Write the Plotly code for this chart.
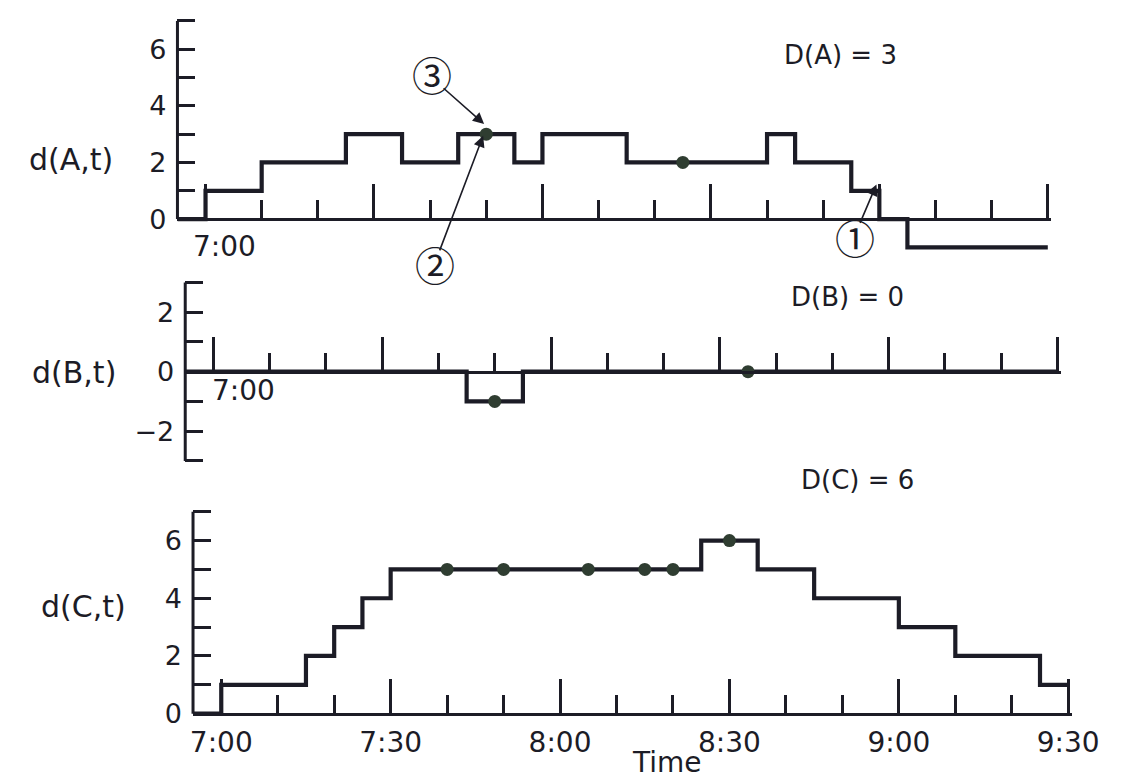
import plotly.graph_objects as go

W, H = 1134, 782

# ---- data (minutes after 7:00) ----
t_A = [-5, 0, 10, 25, 35, 45, 55, 60, 75, 100, 105, 115, 120, 125, 150]
v_A = [0, 1, 2, 3, 2, 3, 2, 3, 2, 3, 2, 1, 0, -1, -1]
dot_t_A = [50, 85]
dot_v_A = [3, 2]

t_B = [-5, 45, 55, 150]
v_B = [0, -1, 0, 0]
dot_t_B = [50, 95]
dot_v_B = [-1, 0]

t_C = [-5, 0, 15, 20, 25, 30, 85, 95, 105, 120, 130, 145, 150]
v_C = [0, 1, 2, 3, 4, 5, 6, 5, 4, 3, 2, 1, 1]
dot_t_C = [40, 50, 65, 75, 80, 90]
dot_v_C = [5, 5, 5, 5, 5, 6]

major_ticks = [0, 30, 60, 90, 120, 150]
major_labels = ["7:00", "7:30", "8:00", "8:30", "9:00", "9:30"]

ytick_A = [0, 1, 2, 3, 4, 5, 6, 7]
ylab_A = ["0", "", "2", "", "4", "", "6", ""]
ytick_B = [-3, -2, -1, 0, 1, 2, 3]
ylab_B = ["", "\u22122", "", "0", "", "2", ""]
ytick_C = [0, 1, 2, 3, 4, 5, 6, 7]
ylab_C = ["0", "", "2", "", "4", "", "6", ""]

INK = "#1c1c26"
DOT = "#2f3d31"
FONT = "DejaVu Sans"

# ---- panel geometry (pixels) ----
panels = [
    dict(xl=172, x150=1066, y0=213, ppu=28.57, yr=(-1.5, 7.2), sp=(0, 7)),
    dict(xl=180, x150=1076, y0=367, ppu=30.0, yr=(-3.25, 3.25), sp=(-3, 3)),
    dict(xl=188, x150=1087, y0=712, ppu=29.1, yr=(-0.3, 7.25), sp=(0, 7)),
]
XMIN, XMAX = -5, 150.6

series = [(t_A, v_A, dot_t_A, dot_v_A, ytick_A, ylab_A),
          (t_B, v_B, dot_t_B, dot_v_B, ytick_B, ylab_B),
          (t_C, v_C, dot_t_C, dot_v_C, ytick_C, ylab_C)]

fig = go.Figure()
layout = dict(width=W, height=H, margin=dict(l=0, r=0, t=0, b=0),
              paper_bgcolor="white", plot_bgcolor="rgba(0,0,0,0)",
              showlegend=False)
shapes = []

for i, (p, s) in enumerate(zip(panels, series)):
    n = "" if i == 0 else str(i + 1)
    ts, vs, dt, dv, ytv, ytt = s
    ppm = (p["x150"] - p["xl"]) / (150 - XMIN)
    xr_px = p["xl"] + (XMAX - XMIN) * ppm
    top_px = p["y0"] - p["yr"][1] * p["ppu"]
    bot_px = p["y0"] - p["yr"][0] * p["ppu"]
    xa = dict(domain=[p["xl"] / W, xr_px / W], range=[XMIN, XMAX],
              anchor="free", position=1 - p["y0"] / H,
              showline=True, linecolor=INK, linewidth=3,
              showgrid=False, zeroline=False,
              ticks="inside", tickmode="array", tickvals=major_ticks,
              ticktext=major_labels, ticklen=34,
              tickwidth=2.5, tickcolor=INK,
              minor=dict(ticks="inside", ticklen=18, tickwidth=2.5,
                         tickcolor=INK, dtick=10, tick0=0, showgrid=False),
              showticklabels=(i == 2),
              tickfont=dict(family=FONT, size=28, color=INK),
              ticklabelstandoff=3)
    ya = dict(domain=[1 - bot_px / H, 1 - top_px / H], range=list(p["yr"]),
              anchor="x" + n, showline=False, showgrid=False, zeroline=False,
              ticks="inside", tickvals=ytv, ticktext=ytt, ticklen=18,
              tickwidth=2.5, tickcolor=INK,
              tickfont=dict(family=FONT, size=27, color=INK),
              ticklabelstandoff=10)
    layout["xaxis" + n] = xa
    layout["yaxis" + n] = ya
    shapes.append(dict(type="line", xref="x" + n + " domain", yref="y" + n,
                       x0=0, x1=0, y0=p["sp"][0], y1=p["sp"][1],
                       line=dict(color=INK, width=3)))
    fig.add_trace(go.Scatter(x=ts, y=vs, mode="lines", line_shape="hv",
                             line=dict(color=INK, width=4.2),
                             xaxis="x" + n, yaxis="y" + n, hoverinfo="skip"))
    fig.add_trace(go.Scatter(x=dt, y=dv, mode="markers",
                             marker=dict(color=DOT, size=13),
                             cliponaxis=False,
                             xaxis="x" + n, yaxis="y" + n, hoverinfo="skip"))

def P(px, py):
    return px / W, 1 - py / H

ann = []
def text(px, py, s, size, family=FONT):
    x, y = P(px, py)
    ann.append(dict(x=x, y=y, xref="paper", yref="paper", text=s,
                    showarrow=False, xanchor="center", yanchor="middle",
                    font=dict(family=family, size=size, color=INK)))

def arrow(hx, hy, tx, ty):
    x, y = P(hx, hy)
    ann.append(dict(x=x, y=y, xref="paper", yref="paper", text="",
                    showarrow=True, axref="pixel", ayref="pixel",
                    ax=tx - hx, ay=ty - hy, arrowhead=2, arrowsize=1.4,
                    arrowwidth=1.6, arrowcolor=INK, standoff=0))

text(63, 153, "d(A,t)", 30)
text(66, 368, "d(B,t)", 30)
text(75, 604, "d(C,t)", 30)
text(853, 47, "D(A) = 3", 26)
text(860, 292, "D(B) = 0", 26)
text(871, 476, "D(C) = 6", 26)
text(220, 241, "7:00", 28)
text(240, 386, "7:00", 28)
text(675, 761, "Time", 28)

text(433, 67, "\u2462", 40, "Noto Sans CJK JP")
text(437, 258, "\u2461", 40, "Noto Sans CJK JP")
text(868, 231, "\u2460", 40, "Noto Sans CJK JP")
arrow(487, 117, 445, 80)
arrow(486, 129, 442, 245)
arrow(890, 178, 873, 218)

layout["annotations"] = ann
layout["shapes"] = shapes
fig.update_layout(**layout)
fig.write_html("out.html")
